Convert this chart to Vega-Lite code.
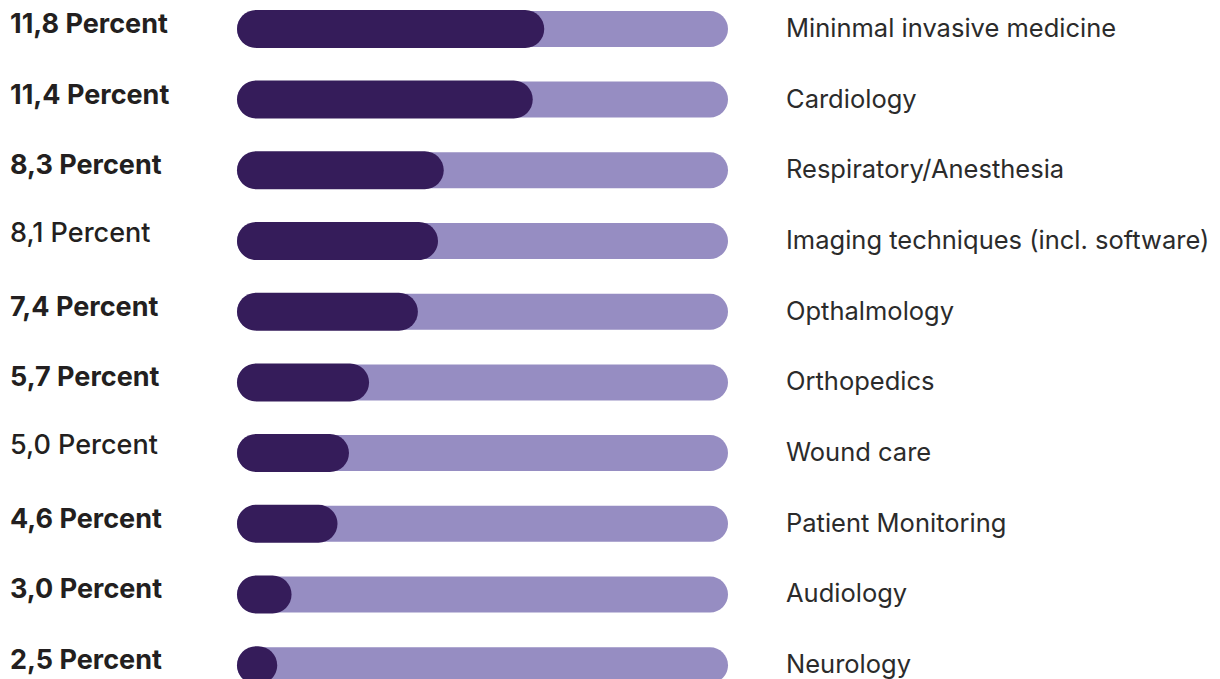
{
  "$schema": "https://vega.github.io/schema/vega-lite/v6.json",
  "autosize": "none",
  "padding": {"left": 237, "top": 0, "right": 492, "bottom": 0},
  "width": 491,
  "height": 679,
  "background": "#ffffff",
  "config": {"view": {"stroke": null}},
  "data": {
    "values": [
      {"value": 11.8, "label": "11,8 Percent", "category": "Mininmal invasive medicine"},
      {"value": 11.4, "label": "11,4 Percent", "category": "Cardiology"},
      {"value": 8.3, "label": "8,3 Percent", "category": "Respiratory/Anesthesia"},
      {"value": 8.1, "label": "8,1 Percent", "category": "Imaging techniques (incl. software)"},
      {"value": 7.4, "label": "7,4 Percent", "category": "Opthalmology"},
      {"value": 5.7, "label": "5,7 Percent", "category": "Orthopedics"},
      {"value": 5.0, "label": "5,0 Percent", "category": "Wound care"},
      {"value": 4.6, "label": "4,6 Percent", "category": "Patient Monitoring"},
      {"value": 3.0, "label": "3,0 Percent", "category": "Audiology"},
      {"value": 2.5, "label": "2,5 Percent", "category": "Neurology"}
    ]
  },
  "encoding": {
    "y": {
      "field": "category",
      "type": "nominal",
      "sort": null,
      "axis": null,
      "scale": {"paddingInner": 0.65, "paddingOuter": 0.127, "align": 0.92}
    }
  },
  "layer": [
    {
      "mark": {"type": "bar", "color": "#968dc2", "size": 36, "cornerRadius": 18},
      "encoding": {
        "x": {"datum": 18.2, "type": "quantitative", "scale": {"domain": [1.1, 18.2], "zero": false, "nice": false}, "axis": null},
        "x2": {"datum": 1.1}
      }
    },
    {
      "mark": {"type": "bar", "color": "#351c5a", "size": 38, "cornerRadius": 19},
      "encoding": {
        "x": {"field": "value", "type": "quantitative", "scale": {"domain": [1.1, 18.2], "zero": false, "nice": false}, "axis": null},
        "x2": {"datum": 1.1}
      }
    },
    {
      "transform": [{"filter": "datum.value != 8.1 && datum.value != 5.0"}],
      "mark": {"type": "text", "align": "left", "baseline": "middle", "dx": -227, "dy": -4, "font": "Inter", "fontWeight": 700, "fontSize": 27, "color": "#231f20"},
      "encoding": {
        "x": {"datum": 1.1, "type": "quantitative", "scale": {"domain": [1.1, 18.2], "zero": false, "nice": false}},
        "text": {"field": "label"}
      }
    },
    {
      "transform": [{"filter": "datum.value == 8.1 || datum.value == 5.0"}],
      "mark": {"type": "text", "align": "left", "baseline": "middle", "dx": -227, "dy": -7, "font": "Inter", "fontWeight": 500, "fontSize": 27, "color": "#231f20"},
      "encoding": {
        "x": {"datum": 1.1, "type": "quantitative", "scale": {"domain": [1.1, 18.2], "zero": false, "nice": false}},
        "text": {"field": "label"}
      }
    },
    {
      "mark": {"type": "text", "align": "left", "baseline": "middle", "dx": 58, "dy": 0, "font": "Inter", "fontWeight": 400, "fontSize": 25.5, "color": "#2b2b2b"},
      "encoding": {
        "x": {"datum": 18.2, "type": "quantitative", "scale": {"domain": [1.1, 18.2], "zero": false, "nice": false}},
        "text": {"field": "category"}
      }
    }
  ]
}
